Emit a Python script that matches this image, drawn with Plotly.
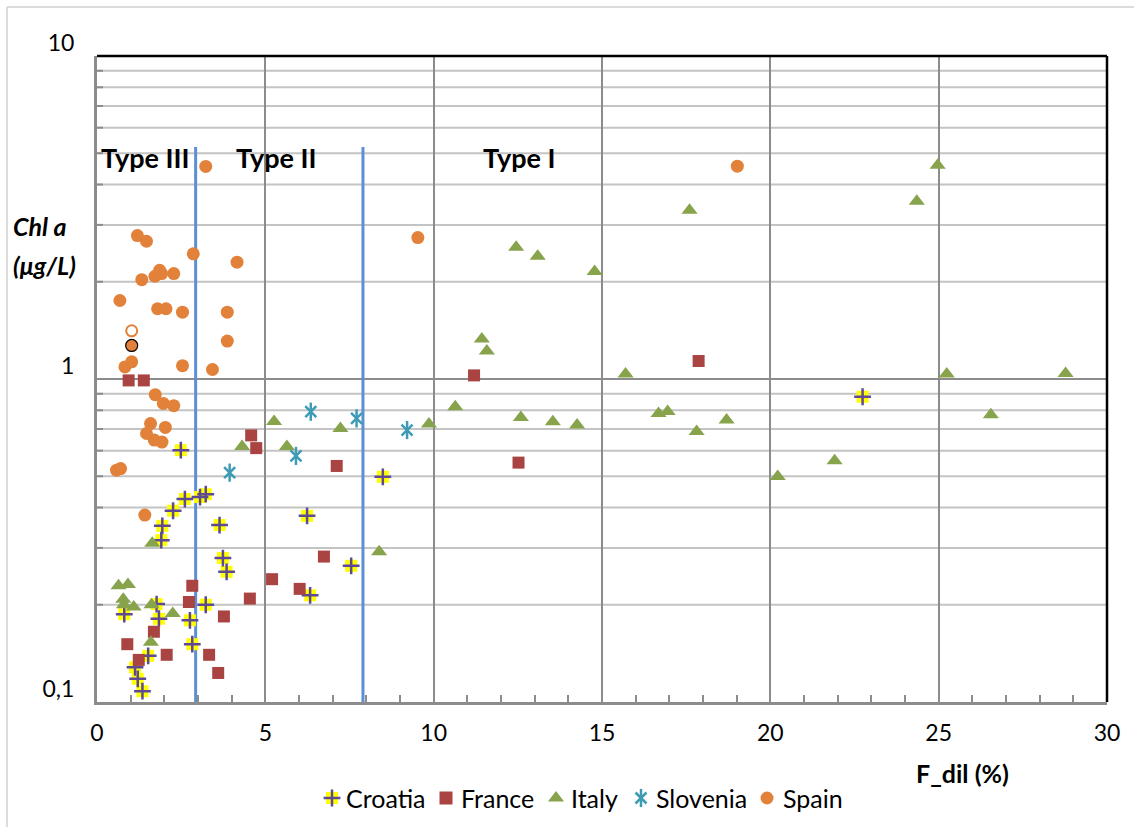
import plotly.graph_objects as go

# ---- data -------------------------------------------------------------
croatia_x = [2.49, 8.49, 2.61, 3.06, 3.23, 2.26, 1.94, 3.64, 6.24, 22.74, 1.91, 3.74, 3.85,
             7.55, 6.33, 3.23, 1.77, 0.81, 1.84, 2.76, 2.83, 1.52, 1.13, 1.21, 1.35]
croatia_y = [0.602, 0.498, 0.425, 0.431, 0.440, 0.391, 0.351, 0.353, 0.377, 0.881, 0.317, 0.279, 0.253,
             0.264, 0.214, 0.200, 0.201, 0.187, 0.181, 0.179, 0.151, 0.139, 0.128, 0.118, 0.108]

france_x = [0.94, 1.39, 4.58, 4.73, 7.12, 11.2, 17.87, 12.52, 6.74, 5.20, 6.02, 4.54, 2.83, 2.73,
            3.77, 1.69, 0.90, 2.07, 3.33, 1.24, 3.60]
france_y = [0.99, 0.99, 0.669, 0.611, 0.538, 1.026, 1.137, 0.551, 0.282, 0.240, 0.224, 0.209, 0.229, 0.204,
            0.184, 0.165, 0.151, 0.140, 0.140, 0.135, 0.123]

italy_x = [24.97, 24.35, 17.6, 12.45, 13.09, 14.78, 11.43, 11.58, 15.70, 10.64, 9.86, 12.59, 13.54,
           14.26, 16.68, 16.95, 17.81, 18.70, 20.22, 25.24, 28.77, 26.55, 21.91, 5.26, 7.23, 4.31,
           5.64, 8.38, 1.64, 0.64, 0.92, 0.78, 0.80, 1.09, 1.62, 2.25, 1.60]
italy_y = [4.59, 3.55, 3.33, 2.56, 2.40, 2.15, 1.33, 1.22, 1.036, 0.821, 0.725, 0.760, 0.737,
           0.720, 0.782, 0.793, 0.688, 0.746, 0.499, 1.036, 1.04, 0.775, 0.558, 0.739, 0.703, 0.618,
           0.618, 0.292, 0.310, 0.229, 0.231, 0.208, 0.200, 0.197, 0.200, 0.188, 0.153]

slovenia_x = [6.35, 7.71, 5.91, 3.94, 9.21]
slovenia_y = [0.792, 0.755, 0.578, 0.513, 0.695]

spain_x = [3.23, 19.02, 9.53, 1.20, 1.47, 2.86, 4.16, 1.33, 1.72, 1.92, 2.28, 1.86, 0.68, 1.80,
           2.05, 2.54, 3.87, 3.87, 0.83, 1.03, 2.54, 3.43, 1.73, 1.97, 2.28, 1.59, 2.03, 1.47,
           1.70, 1.93, 0.58, 0.70, 1.42]
spain_y = [4.55, 4.56, 2.74, 2.78, 2.67, 2.44, 2.30, 2.03, 2.08, 2.12, 2.12, 2.17, 1.75, 1.65,
           1.65, 1.61, 1.61, 1.31, 1.09, 1.13, 1.10, 1.07, 0.894, 0.840, 0.827, 0.728, 0.708, 0.678,
           0.647, 0.638, 0.522, 0.528, 0.379]
spain_open_x, spain_open_y = [1.03], [1.41]
spain_ring_x, spain_ring_y = [1.03], [1.27]

type_bounds = [2.93, 7.9]        # F_dil limits separating Type III / II / I
type_line_top = 5.23
type_labels = ["Type III", "Type II", "Type I"]

x_ticks = [0, 5, 10, 15, 20, 25, 30]
y_ticks = [0.1, 1, 10]
y_ticktext = ["0,1", "1", "10"]
y_minor = [round(v * d, 2) for d in (0.1, 1) for v in range(2, 10)]

series_names = ["Croatia", "France", "Italy", "Slovenia", "Spain"]

# ---- styling ----------------------------------------------------------
W, H = 1134, 827
PL, PR, PT, PB = 97, 1107, 56, 702      # plot area edges in pixels
FONT = "Lato, Carlito, Calibri, sans-serif"
C_CRO_FILL, C_CRO_LINE = "#FFFF00", "#5E4A94"
C_FRA = "#A94442"
C_ITA = "#87A34B"
C_SLO = "#3E9BB5"
C_SPA = "#E2823A"
C_BLUE = "#5B8FD6"
C_MAJOR = "#8C8C8C"
C_MINOR = "#C4C4C4"

fig = go.Figure()

# Type boundaries
for b in type_bounds:
    fig.add_trace(go.Scatter(x=[b, b], y=[0.1, type_line_top], mode="lines",
                             line=dict(color=C_BLUE, width=3), hoverinfo="skip", showlegend=False))

# Croatia: yellow patch with a purple plus
fig.add_trace(go.Scatter(x=croatia_x, y=croatia_y, mode="markers", showlegend=False,
                         marker=dict(symbol="square", size=12, color=C_CRO_FILL)))
fig.add_trace(go.Scatter(x=croatia_x, y=croatia_y, mode="markers", showlegend=False,
                         marker=dict(symbol="cross-thin", size=12,
                                     line=dict(color=C_CRO_LINE, width=2.5))))
fig.add_trace(go.Scatter(x=france_x, y=france_y, mode="markers", showlegend=False,
                         marker=dict(symbol="square", size=12, color=C_FRA)))
fig.add_trace(go.Scatter(x=italy_x, y=italy_y, mode="markers", showlegend=False,
                         marker=dict(symbol="triangle-up", size=14, color=C_ITA)))
fig.add_trace(go.Scatter(x=slovenia_x, y=slovenia_y, mode="markers", showlegend=False,
                         marker=dict(symbol="x-thin", size=11, line=dict(color=C_SLO, width=2.5))))
fig.add_trace(go.Scatter(x=slovenia_x, y=slovenia_y, mode="markers", showlegend=False,
                         marker=dict(symbol="line-ns", size=13, line=dict(color=C_SLO, width=2.5))))
fig.add_trace(go.Scatter(x=spain_x, y=spain_y, mode="markers", showlegend=False,
                         marker=dict(symbol="circle", size=13, color=C_SPA)))
fig.add_trace(go.Scatter(x=spain_open_x, y=spain_open_y, mode="markers", showlegend=False,
                         marker=dict(symbol="circle", size=11, color="white",
                                     line=dict(color=C_SPA, width=2))))
fig.add_trace(go.Scatter(x=spain_ring_x, y=spain_ring_y, mode="markers", showlegend=False,
                         marker=dict(symbol="circle", size=12, color=C_SPA,
                                     line=dict(color="black", width=1.2))))

# ---- legend drawn on an overlay axis in pixel units -------------------
LEG_Y = 798
leg_marker_x = [332, 446, 556, 641, 767]
leg_text_x = [344, 459, 569, 654, 781]
ov = dict(xaxis="x2", yaxis="y2", mode="markers", showlegend=False, hoverinfo="skip")
fig.add_trace(go.Scatter(x=[leg_marker_x[0]], y=[LEG_Y], **ov,
                         marker=dict(symbol="square", size=12, color=C_CRO_FILL)))
fig.add_trace(go.Scatter(x=[leg_marker_x[0]], y=[LEG_Y], **ov,
                         marker=dict(symbol="cross-thin", size=12, line=dict(color=C_CRO_LINE, width=2.5))))
fig.add_trace(go.Scatter(x=[leg_marker_x[1]], y=[LEG_Y], **ov,
                         marker=dict(symbol="square", size=13, color=C_FRA)))
fig.add_trace(go.Scatter(x=[leg_marker_x[2]], y=[LEG_Y], **ov,
                         marker=dict(symbol="triangle-up", size=14, color=C_ITA)))
fig.add_trace(go.Scatter(x=[leg_marker_x[3]], y=[LEG_Y], **ov,
                         marker=dict(symbol="x-thin", size=11, line=dict(color=C_SLO, width=2.5))))
fig.add_trace(go.Scatter(x=[leg_marker_x[3]], y=[LEG_Y], **ov,
                         marker=dict(symbol="line-ns", size=13, line=dict(color=C_SLO, width=2.5))))
fig.add_trace(go.Scatter(x=[leg_marker_x[4]], y=[LEG_Y], **ov,
                         marker=dict(symbol="circle", size=13, color=C_SPA)))

annotations = []
for name, tx in zip(series_names, leg_text_x):
    annotations.append(dict(x=tx, y=LEG_Y, xref="x2", yref="y2", text=name, showarrow=False,
                            xanchor="left", yanchor="middle", font=dict(family=FONT, size=25, color="black")))

# axis titles
annotations.append(dict(x=11, y=226, xref="x2", yref="y2", text="<b><i>Chl a</i></b>", showarrow=False,
                        xanchor="left", yanchor="middle", font=dict(family=FONT, size=25, color="black")))
annotations.append(dict(x=11, y=265, xref="x2", yref="y2", text="<b><i>(μg/L)</i></b>", showarrow=False,
                        xanchor="left", yanchor="middle", font=dict(family=FONT, size=25, color="black")))
annotations.append(dict(x=962, y=773, xref="x2", yref="y2", text="<b>F_dil (%)</b>", showarrow=False,
                        xanchor="center", yanchor="middle", font=dict(family=FONT, size=25, color="black")))

# type labels
for lab, lx in zip(type_labels, [99, 234, 481]):
    annotations.append(dict(x=lx, y=157, xref="x2", yref="y2", text="<b>%s</b>" % lab, showarrow=False,
                            xanchor="left", yanchor="middle", font=dict(family=FONT, size=27, color="black")))

shapes = [
    # outer chart frame (top and left edges; the others lie at the page edge)
    dict(type="line", xref="x2", yref="y2", x0=7, y0=7, x1=W, y1=7,
         line=dict(color="#D0D0D0", width=1.5), layer="below"),
    dict(type="line", xref="x2", yref="y2", x0=7, y0=7, x1=7, y1=H,
         line=dict(color="#D0D0D0", width=1.5), layer="below"),
    # top and right borders of the plot area
    dict(type="line", xref="x domain", yref="y domain", x0=0, x1=1, y0=1, y1=1,
         line=dict(color="black", width=2.5)),
    dict(type="line", xref="x domain", yref="y domain", x0=1, x1=1, y0=0, y1=1,
         line=dict(color="black", width=2.5)),
]
# minor horizontal gridlines and their small inside ticks on the log axis
for v in y_minor:
    shapes.append(dict(type="line", xref="x domain", yref="y", x0=0, x1=1, y0=v, y1=v,
                       line=dict(color=C_MINOR, width=2), layer="below"))
    shapes.append(dict(type="line", xref="x domain", yref="y", x0=0, x1=6 / (PR - PL), y0=v, y1=v,
                       line=dict(color=C_MAJOR, width=2), layer="below"))

fig.update_layout(
    width=W, height=H, autosize=False,
    margin=dict(l=0, r=0, t=0, b=0, pad=0, autoexpand=False),
    paper_bgcolor="white", plot_bgcolor="rgba(0,0,0,0)",
    showlegend=False,
    font=dict(family=FONT, size=23, color="black"),
    xaxis=dict(domain=[PL / W, PR / W], range=[0, 30], tickvals=x_ticks, automargin=False,
               showgrid=True, gridcolor=C_MAJOR, gridwidth=2, zeroline=False,
               showline=True, linecolor=C_MAJOR, linewidth=3,
               ticks="inside", ticklen=7, tickwidth=2, tickcolor=C_MAJOR,
               ticklabelstandoff=8,
               minor=dict(dtick=1, ticks="inside", ticklen=7, tickwidth=2, tickcolor=C_MAJOR, showgrid=False),
               tickfont=dict(family=FONT, size=23, color="black")),
    yaxis=dict(domain=[(H - PB) / H, (H - PT) / H], type="log", range=[-1, 1], automargin=False,
               tickvals=y_ticks, ticktext=y_ticktext,
               showgrid=True, gridcolor=C_MAJOR, gridwidth=2, zeroline=False,
               showline=True, linecolor=C_MAJOR, linewidth=3,
               ticks="", ticklabelshift=-13, ticklabelstandoff=15,
               tickfont=dict(family=FONT, size=23, color="black")),
    xaxis2=dict(domain=[0, 1], range=[0, W], visible=False, anchor="y2", fixedrange=True, automargin=False),
    yaxis2=dict(domain=[0, 1], range=[H, 0], visible=False, anchor="x2", fixedrange=True, automargin=False),
    annotations=annotations,
    shapes=shapes,
)

fig.write_html("out.html", config={"responsive": False})
